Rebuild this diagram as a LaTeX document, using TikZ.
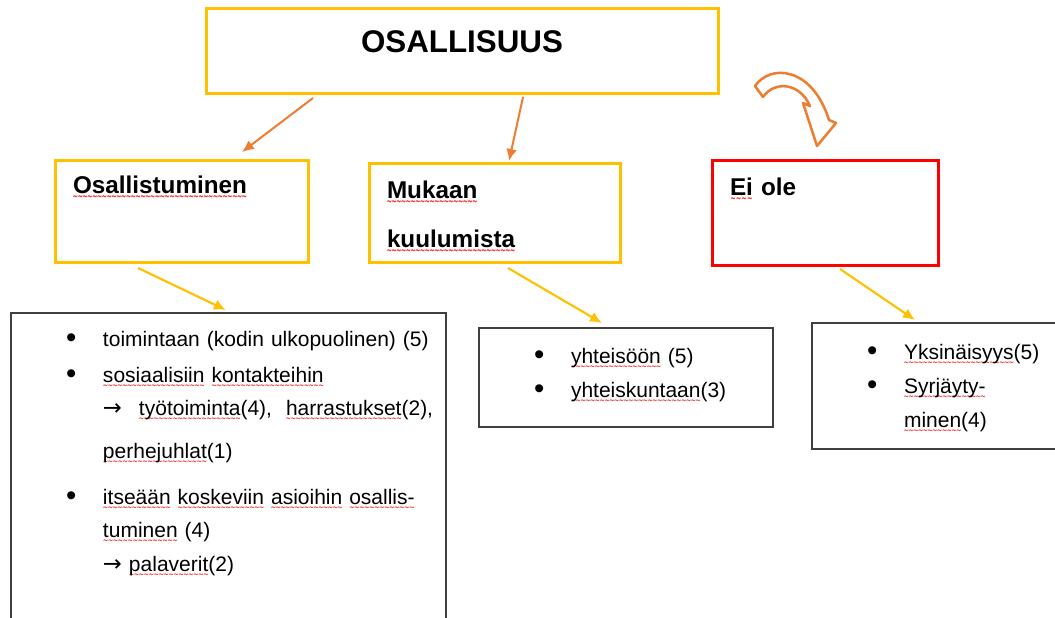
\documentclass[tikz,border=0pt]{standalone}
\usepackage{fontspec}
\setmainfont{Liberation Sans}
\newfontfamily\wavefont{DejaVu Sans}
\usetikzlibrary{positioning,calc,arrows.meta}

\definecolor{gold}{HTML}{FFC000}
\definecolor{orng}{HTML}{ED7D31}
\definecolor{squig}{HTML}{F03838}
\definecolor{boxgray}{HTML}{404040}

% wavy red underline
\newcommand\wavy[1]{\setbox0=\hbox{#1}\rlap{\raisebox{-5.5pt}{\color{squig}\fontsize{9}{9}\wavefont
  \hbox to \wd0{\xleaders\hbox{\kern-0.3pt\scalebox{0.55}[1]{\char"7E}\kern-0.3pt}\hfil}}}\box0\relax}
\newcommand\arr{{\wavefont\fontsize{17}{17}\selectfont →}}
\newcommand\blt{\makebox[27.75pt][l]{\raisebox{-1pt}{\scalebox{1.4}{\textbullet}}}}
\newcommand\itm[1]{\hbox{\hspace*{41.25pt}\blt #1}}
\newcommand\cnt[1]{\hbox{\hspace*{69pt}#1}}

\begin{document}
\begin{tikzpicture}[
    x=0.75pt,y=-0.75pt,
    headbox/.style={
      draw=gold,
      line width=2.25pt,
      inner xsep=13.5pt,
      inner ysep=0pt,
      outer sep=0pt,
      anchor=north west,
      align=left,
      font=\bfseries\fontsize{18.2}{22}\selectfont
    },
    listbox/.style={
      draw=boxgray,
      line width=1pt,
      inner sep=0pt,
      outer sep=0pt,
      anchor=north west,
      align=left,
      font=\fontsize{15.75}{19}\selectfont
    },
    >={Latex[length=9pt,width=8pt]},
    oarrow/.style={->,color=orng,line width=1.5pt},
    yarrow/.style={->,color=gold,line width=1.6pt}
    ]
    \useasboundingbox (0,0) rectangle (1055,617);

    \node[headbox,align=center,inner xsep=0pt,text width=384pt,text height=33pt,text depth=30pt,
      font=\bfseries\fontsize{23.5}{28}\selectfont] (top) at (206,9) {OSALLISUUS};

    \node[headbox,text width=162.75pt,text height=24.75pt,text depth=51.75pt] (osa) at (55,160)
      {\wavy{Osallistuminen}};
    \node[headbox,text width=161.25pt,text height=26.25pt,text depth=48pt] (muk) at (369,163)
      {\vtop{\baselineskip=36.75pt \hbox{\wavy{Mukaan}}\hbox{\wavy{kuulumista}}}};
    \node[headbox,draw=red,text width=142.5pt,text height=26.25pt,text depth=52.5pt] (ei) at (712,160)
      {\wavy{Ei} ole};

    \node[listbox,text width=326.25pt,text height=24.75pt,text depth=209.25pt] (lst1) at (11,313) {\vtop{%
      \itm{toimintaan (kodin ulkopuolinen) (5)}
      \baselineskip=27pt
      \itm{\wavy{sosiaalisiin} \wavy{kontakteihin}}
      \baselineskip=24.75pt
      \cnt{\makebox[27pt][l]{\arr}\wavy{työtoiminta}(4),\ \ \wavy{harrastukset}(2),}
      \baselineskip=32.25pt
      \cnt{\wavy{perhejuhlat}(1)}
      \baselineskip=34.5pt
      \itm{\wavy{itseään} \wavy{koskeviin} \wavy{asioihin} \wavy{osallis-}}
      \baselineskip=24.75pt
      \cnt{\wavy{tuminen} (4)}
      \baselineskip=25.5pt
      \cnt{\makebox[19.5pt][l]{\arr}\wavy{palaverit}(2)}}};
    \node[listbox,text width=220.5pt,text height=26.25pt,text depth=48pt] (lst2) at (479,328) {\vtop{%
      \itm{\wavy{yhteisöön} (5)}
      \baselineskip=25.5pt
      \itm{\wavy{yhteiskuntaan}(3)}}};
    \node[listbox,text width=187.5pt,text height=27pt,text depth=67.5pt] (lst3) at (812,323) {\vtop{%
      \itm{\wavy{Yksinäisyys}(5)}
      \baselineskip=25.5pt
      \itm{\wavy{Syrjäyty-}}
      \baselineskip=25.5pt
      \cnt{\wavy{minen}(4)}}};

    \path[oarrow] ($(top.south west)+(107,5)$) edge ($(osa.north west)+(187,-8)$);
    \path[oarrow] ($(top.south west)+(317,4)$) edge ($(muk.north west)+(140,-2)$);

    \path[yarrow] ($(osa.south west)+(83,6)$) edge ($(lst1.north west)+(215,-3)$);
    \path[yarrow] ($(muk.south west)+(139,6)$) edge ($(lst2.north west)+(123,-5)$);
    \path[yarrow] ($(ei.south west)+(128,4)$) edge ($(lst3.north west)+(103,-3)$);

    % curved block arrow
    \draw[color=orng,line width=1.9pt,line join=round,fill=white]
      (755,86) .. controls (770,64) and (812,66) .. (829,120) -- (836,123) -- (817,146)
      -- (803,103) -- (810,106) .. controls (800,83) and (775,80) .. (763,97) -- cycle;
\end{tikzpicture}
\end{document}
